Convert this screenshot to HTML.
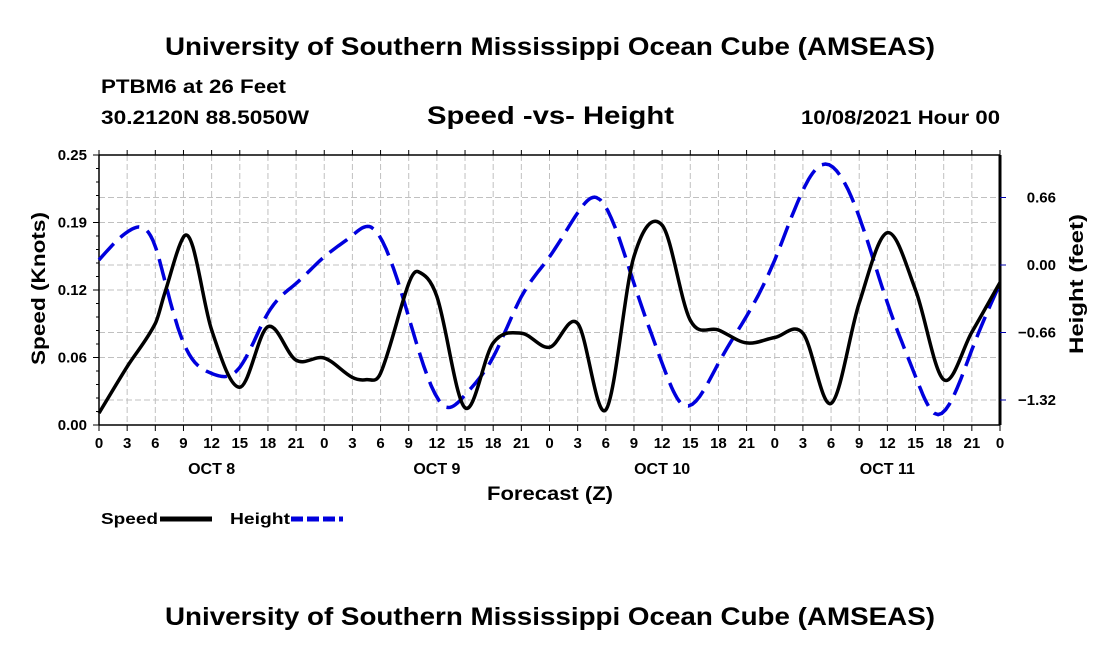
<!DOCTYPE html>
<html><head><meta charset="utf-8"><style>
body{margin:0;background:#fff;}
svg text{font-family:"Liberation Sans",sans-serif;font-weight:bold;fill:#000;}
</style></head><body>
<svg width="1100" height="650" viewBox="0 0 1100 650">
<text x="165" y="55" font-size="25" textLength="770" lengthAdjust="spacingAndGlyphs">University of Southern Mississippi Ocean Cube (AMSEAS)</text>
<text x="101" y="93" font-size="19" textLength="185" lengthAdjust="spacingAndGlyphs">PTBM6 at 26 Feet</text>
<text x="101" y="124" font-size="19" textLength="208" lengthAdjust="spacingAndGlyphs">30.2120N  88.5050W</text>
<text x="427" y="124" font-size="25" textLength="247" lengthAdjust="spacingAndGlyphs">Speed -vs- Height</text>
<text x="801" y="124" font-size="19" textLength="199" lengthAdjust="spacingAndGlyphs">10/08/2021 Hour 00</text>
<g id="grid"></g>
<g id="axes"></g>
<g id="series"></g>
<text x="487" y="500" font-size="19" textLength="126" lengthAdjust="spacingAndGlyphs">Forecast (Z)</text>
<text transform="translate(45,365) rotate(-90)" font-size="19" textLength="153" lengthAdjust="spacingAndGlyphs">Speed (Knots)</text>
<text transform="translate(1083,354) rotate(-90)" font-size="19" textLength="140" lengthAdjust="spacingAndGlyphs">Height (feet)</text>
<g><text x="101" y="524" font-size="16" textLength="57" lengthAdjust="spacingAndGlyphs">Speed</text><line x1="160" y1="519" x2="212" y2="519" stroke="#000" stroke-width="5"/></g>
<g><text x="230" y="524" font-size="16" textLength="60" lengthAdjust="spacingAndGlyphs">Height</text><line x1="291" y1="519" x2="343" y2="519" stroke="#0000dd" stroke-width="5" stroke-dasharray="12,4"/></g>
<text x="165" y="625" font-size="25" textLength="770" lengthAdjust="spacingAndGlyphs">University of Southern Mississippi Ocean Cube (AMSEAS)</text>
</svg>
<script>
const speedHours=[0,3,6,7,9,10,12,15,18,21,24,27,28.5,30,33,34,36,39,42,45,48,51,54,57,60,63,66,69,72,75,78,81,84,87,90,93,96];
const speed=[0.011,0.054,0.094,0.122,0.174,0.165,0.088,0.035,0.091,0.060,0.062,0.044,0.042,0.048,0.131,0.142,0.119,0.016,0.076,0.085,0.072,0.094,0.014,0.156,0.185,0.097,0.088,0.076,0.081,0.085,0.020,0.113,0.178,0.125,0.042,0.086,0.132];
const heightHours=[0,3.5,6,7,9,12,13.5,15,18,21,24,27,29,33,37,39,42,45,48,51,53,57,60,62,66,69,72,75,77,81,84,87,89,93,96];
const height=[0.05,0.35,0.18,-0.15,-0.76,-1.06,-1.09,-1.0,-0.47,-0.18,0.08,0.29,0.37,-0.51,-1.39,-1.27,-0.9,-0.31,0.08,0.51,0.66,-0.18,-0.96,-1.35,-0.96,-0.5,0.05,0.73,0.98,0.47,-0.37,-1.09,-1.45,-0.83,-0.18];
const xTickLabels=["0","3","6","9","12","15","18","21"];
const dayLabels=["OCT 8","OCT 9","OCT 10","OCT 11"];
const leftTicks=[0,0.0625,0.125,0.1875,0.25];
const leftTickLabels=["0.00","0.06","0.12","0.19","0.25"];
const rightTicks=[0.66,0,-0.66,-1.32];
const rightTickLabels=["0.66","0.00","\u22120.66","\u22121.32"];
const L=99,R=1000,T=155,B=425;
const xs=h=>L+h/96*(R-L);
const ys=v=>B-v/0.25*(B-T);
const yh=v=>265-v/0.66*67.5;
const NS="http://www.w3.org/2000/svg";
function mk(p,tag,a){const e=document.createElementNS(NS,tag);for(const k in a)e.setAttribute(k,a[k]);p.appendChild(e);return e;}
const grid=document.getElementById('grid'),axes=document.getElementById('axes'),ser=document.getElementById('series');
const gs={stroke:"#c0c0c0","stroke-width":1,"stroke-dasharray":"6,3"};
for(let h=3;h<96;h+=3){const g=mk(grid,'line',Object.assign({x1:xs(h),x2:xs(h),y1:T,y2:B},gs));

}
leftTicks.slice(1,4).forEach(v=>{const g=mk(grid,'line',Object.assign({x1:L,x2:R,y1:ys(v),y2:ys(v)},gs));

});
rightTicks.forEach(v=>{const g=mk(grid,'line',Object.assign({x1:L,x2:R,y1:yh(v),y2:yh(v)},gs));

});
mk(axes,'line',{x1:L,x2:R,y1:T,y2:T,stroke:"#000","stroke-width":1.5});
mk(axes,'line',{x1:L,x2:R,y1:B,y2:B,stroke:"#000","stroke-width":1.5});
mk(axes,'line',{x1:L,x2:L,y1:T,y2:B,stroke:"#000","stroke-width":1.5});
mk(axes,'line',{x1:R,x2:R,y1:T,y2:B,stroke:"#000","stroke-width":3});
for(let h=0;h<=96;h+=3){
mk(axes,'line',{x1:xs(h),x2:xs(h),y1:B,y2:B+6,stroke:"#000"});
mk(axes,'line',{x1:xs(h),x2:xs(h),y1:T,y2:T-5,stroke:"#000"});
const t=mk(axes,'text',{x:xs(h),y:B+23,"font-size":15,"text-anchor":"middle"});
t.textContent=xTickLabels[(h/3)%8];

}
dayLabels.forEach((d,i)=>{const t=mk(axes,'text',{x:xs(12+24*i),y:B+49,"font-size":16,"text-anchor":"middle"});t.textContent=d;

});
for(let i=0;i<=20;i++){const v=i*0.0125;mk(axes,'line',{x1:L-(i%5==0?6:3),x2:L,y1:ys(v),y2:ys(v),stroke:"#000"});}
leftTicks.forEach((v,i)=>{const t=mk(axes,'text',{x:L-12,y:ys(v)+5,"font-size":15,"text-anchor":"end"});t.textContent=leftTickLabels[i];

});
rightTicks.forEach((v,i)=>{mk(axes,'line',{x1:R,x2:R+6,y1:yh(v),y2:yh(v),stroke:"#00a"});
const t=mk(axes,'text',{x:R+56,y:yh(v)+5,"font-size":15,"text-anchor":"end"});t.textContent=rightTickLabels[i];

});
function path(pts){const n=pts.length,m=[];
for(let i=0;i<n;i++){const a=pts[Math.max(0,i-1)],b=pts[Math.min(n-1,i+1)];m.push((b[1]-a[1])/(b[0]-a[0]));}
let d=`M${pts[0][0]},${pts[0][1]}`;
for(let i=0;i<n-1;i++){const p1=pts[i],p2=pts[i+1],dx=(p2[0]-p1[0])/3;
d+=` C${p1[0]+dx},${p1[1]+m[i]*dx} ${p2[0]-dx},${p2[1]-m[i+1]*dx} ${p2[0]},${p2[1]}`;}return d;}
function splinePath(xv,yv){const n=xv.length,h=[],al=[],l=[1],mu=[0],z=[0],c=new Array(n).fill(0);
for(let i=0;i<n-1;i++)h.push(xv[i+1]-xv[i]);
for(let i=1;i<n-1;i++)al[i]=3/h[i]*(yv[i+1]-yv[i])-3/h[i-1]*(yv[i]-yv[i-1]);
for(let i=1;i<n-1;i++){l[i]=2*(xv[i+1]-xv[i-1])-h[i-1]*mu[i-1];mu[i]=h[i]/l[i];z[i]=(al[i]-h[i-1]*z[i-1])/l[i];}
const b=[],dd=[];
for(let j=n-2;j>=0;j--){c[j]=(j>0?z[j]-mu[j]*c[j+1]:0);b[j]=(yv[j+1]-yv[j])/h[j]-h[j]*(c[j+1]+2*c[j])/3;dd[j]=(c[j+1]-c[j])/(3*h[j]);}
let d='';
for(let j=0;j<n-1;j++){for(let s=0;s<=10;s++){if(j>0&&s==0)continue;const t=h[j]*s/10;
const v=yv[j]+b[j]*t+c[j]*t*t+dd[j]*t*t*t;d+=(d?' L':'M')+xs(xv[j]+t).toFixed(1)+','+yh(v).toFixed(1);}}
return d;}
const hp=mk(ser,'path',{d:splinePath(heightHours,height),fill:"none",stroke:"#0000dd","stroke-width":3.5,"stroke-dasharray":"22,9"});


const sp=mk(ser,'path',{d:path(speedHours.map((h,i)=>[xs(h),ys(speed[i])])),fill:"none",stroke:"#000","stroke-width":3.5});


</script>
</body></html>
